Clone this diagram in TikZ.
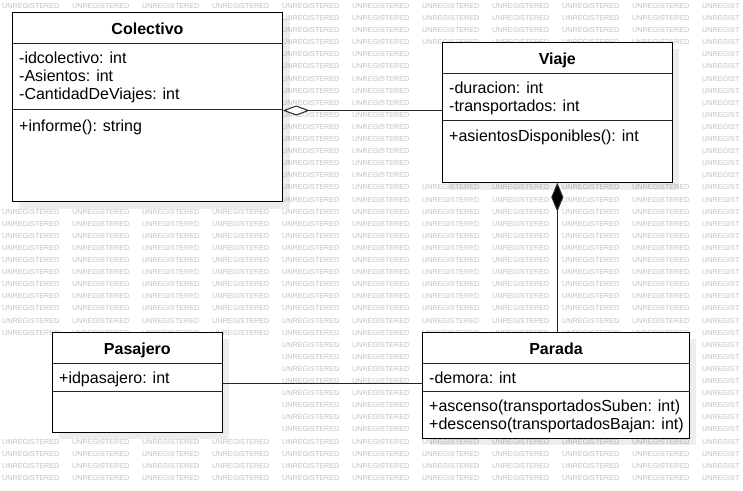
\documentclass[tikz,border=0pt]{standalone}
\usepackage{fontspec}
\setmainfont{Liberation Sans}
\usetikzlibrary{arrows.meta,shadows}
\begin{document}
\begin{tikzpicture}[x=1pt,y=-1pt,
  umlbox/.style={draw=black, line width=1pt, fill=white, inner sep=0pt, outer sep=0pt,
    anchor=north west, drop shadow={shadow xshift=7pt, shadow yshift=-7pt, fill=black, opacity=0.07}},
  sepline/.style={draw=black!85, line width=1pt},
  title/.style={font=\fontsize{16}{18}\selectfont\bfseries, anchor=base, inner sep=0pt},
  member/.style={font=\fontsize{16}{18}\selectfont, anchor=base west, inner sep=0pt},
  wm/.style={font=\fontsize{7.2}{7.2}\selectfont, text=black!24, anchor=west, inner sep=0pt},
  conn/.style={draw=black!85, line width=1.1pt}]
\useasboundingbox (0,0) rectangle (743,490);
\fill[white] (0,0) rectangle (743,490);
% watermark (only where it is not hidden by a class box)
\foreach \k in {0,...,39}{
  \foreach \j in {0,...,10}{
    \pgfmathsetmacro\wx{2+70*\j}
    \pgfmathsetmacro\wy{6+12.1*\k}
    \pgfmathtruncatemacro\hid{
      (\wx+58>17.3)*(\wx<277.7)*(\wy+3.5>17.3)*(\wy-3.5<196.7)
     +(\wx+58>447.3)*(\wx<667.3)*(\wy+3.5>47.3)*(\wy-3.5<177.7)
     +(\wx+58>57.3)*(\wx<217.3)*(\wy+3.5>337.3)*(\wy-3.5<427.3)
     +(\wx+58>427.7)*(\wx<684.3)*(\wy+3.5>337.3)*(\wy-3.5<433.3)}
    \ifnum\hid=0
      \ifnum\j=10
        \node[wm] at (\wx,\wy) {UNREGIST};
      \else
        \node[wm] at (\wx,\wy) {UNREGISTERED};
      \fi
    \fi
  }
}
% Colectivo
\node[umlbox, minimum width=270.4pt, minimum height=189.4pt] (colectivo) at (12.3,12.3) {};
\draw[sepline] (colectivo.west |- 0,43.3) -- (colectivo.east |- 0,43.3);
\draw[sepline] (colectivo.west |- 0,109.8) -- (colectivo.east |- 0,109.8);
\node[title] (colT) at (147.5,34) {Colectivo};
\node[member] (col1) at (19,63) {-idcolectivo: int};
\node[member] (col2) at (19,81) {-Asientos: int};
\node[member] (col3) at (19,99) {-CantidadDeViajes: int};
\node[member] (col4) at (19,131) {+informe(): string};
% Viaje
\node[umlbox, minimum width=230pt, minimum height=140.4pt] (viaje) at (442.3,42.3) {};
\draw[sepline] (viaje.west |- 0,73.3) -- (viaje.east |- 0,73.3);
\draw[sepline] (viaje.west |- 0,120.7) -- (viaje.east |- 0,120.7);
\node[title] (viaT) at (557.3,64) {Viaje};
\node[member] (via1) at (449,93) {-duracion: int};
\node[member] (via2) at (449,111) {-transportados: int};
\node[member] (via3) at (449,141) {+asientosDisponibles(): int};
% Pasajero
\node[umlbox, minimum width=170pt, minimum height=100pt] (pasajero) at (52.3,332.3) {};
\draw[sepline] (pasajero.west |- 0,363.3) -- (pasajero.east |- 0,363.3);
\draw[sepline] (pasajero.west |- 0,391.7) -- (pasajero.east |- 0,391.7);
\node[title] (pasT) at (137.3,354) {Pasajero};
\node[member] (pas1) at (59,383) {+idpasajero: int};
% Parada
\node[umlbox, minimum width=266.6pt, minimum height=106pt] (parada) at (422.7,332.3) {};
\draw[sepline] (parada.west |- 0,363.3) -- (parada.east |- 0,363.3);
\draw[sepline] (parada.west |- 0,391.7) -- (parada.east |- 0,391.7);
\node[title] (parT) at (556,354) {Parada};
\node[member] (par1) at (429,383) {-demora: int};
\node[member] (par2) at (429,411.5) {+ascenso(transportadosSuben: int)};
\node[member] (par3) at (429,429.5) {+descenso(transportadosBajan: int)};
% connectors
\coordinate (aggA) at (colectivo.east |- 0,110.5);
\coordinate (aggB) at (viaje.west |- 0,110.5);
\draw[conn, -{Diamond[fill=white, length=27pt, width=10pt, line width=1pt]}] (aggB) -- (aggA);
\coordinate (compB) at (viaje.south |- parada.north);
\draw[conn, {Diamond[fill=black, length=29pt, width=12pt]}-] (viaje.south) -- (compB);
\coordinate (asA) at (pasajero.east |- 0,383.5);
\coordinate (asB) at (parada.west |- 0,383.5);
\draw[conn] (asA) -- (asB);
\end{tikzpicture}
\end{document}
